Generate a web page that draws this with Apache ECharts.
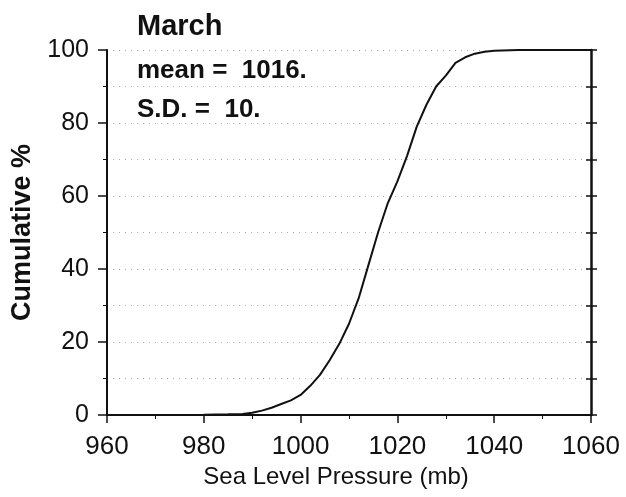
<!DOCTYPE html>
<html>
<head>
<meta charset="utf-8">
<script src="https://cdn.jsdelivr.net/npm/echarts@6/dist/echarts.min.js"></script>
<style>html,body{margin:0;padding:0;background:#fff}#c{width:626px;height:497px}</style>
</head>
<body>
<div id="c"></div>
<script>
var pressure = [960, 970, 980, 985, 988, 990, 992, 994, 996, 998, 1000, 1002, 1004, 1006, 1008, 1010, 1012, 1014, 1016, 1018, 1020, 1022, 1024, 1026, 1028, 1030, 1032, 1034, 1036, 1038, 1040, 1045, 1050, 1060];
var cumulative = [0, 0, 0.1, 0.2, 0.3, 0.6, 1.2, 2, 3, 4, 5.5, 8, 11, 15, 19.5, 25, 32, 41, 50, 58, 64, 71, 79, 85, 90, 93, 96.5, 98, 99, 99.5, 99.8, 100, 100, 100];
var titleText = 'March';
var statLines = ['mean =  1016.', 'S.D. =  10.'];
var xName = 'Sea Level Pressure (mb)';
var yName = 'Cumulative %';

var font = 'Liberation Sans, Arial, Helvetica, sans-serif';
var chart = echarts.init(document.getElementById('c'), null, {renderer: 'canvas'});
var data = pressure.map(function (p, i) { return [p, cumulative[i]]; });

chart.setOption({
  animation: false,
  backgroundColor: '#fff',
  title: {
    text: titleText, left: 137, top: 12, padding: 0,
    textStyle: {fontFamily: font, fontWeight: 'bold', fontSize: 29, color: '#111'}
  },
  grid: {left: 107, right: 35, top: 50, bottom: 82, containLabel: false},
  xAxis: {
    type: 'value', min: 960, max: 1060, interval: 20,
    name: xName, nameLocation: 'middle', nameGap: 50,
    nameTextStyle: {fontFamily: font, fontSize: 24, color: '#111', padding: [0, 26, 0, 0]},
    axisLine: {show: true, onZero: false, lineStyle: {color: '#111', width: 2}},
    axisTick: {show: true, inside: false, length: 8, lineStyle: {color: '#111', width: 1.5}},
    minorTick: {show: true, splitNumber: 2, length: 4, lineStyle: {color: '#111', width: 1}},
    axisLabel: {margin: 19, fontFamily: font, fontSize: 26, color: '#111', formatter: function (v) { return String(v); }},
    splitLine: {show: false}
  },
  yAxis: [{
    type: 'value', min: 0, max: 100, interval: 20, position: 'left',
    name: yName, nameLocation: 'middle', nameGap: 71, nameRotate: 90,
    nameTextStyle: {fontFamily: font, fontWeight: 'bold', fontSize: 27, color: '#111'},
    axisLine: {show: true, onZero: false, lineStyle: {color: '#111', width: 2}},
    axisTick: {show: true, inside: false, length: 9, lineStyle: {color: '#111', width: 1.5}},
    minorTick: {show: true, splitNumber: 2, length: 4, lineStyle: {color: '#111', width: 1}},
    axisLabel: {margin: 18, fontFamily: font, fontSize: 25, color: '#111'},
    splitLine: {show: false}
  }, {
    type: 'value', min: 0, max: 100, interval: 10, position: 'right',
    axisLine: {show: true, onZero: false, lineStyle: {color: '#111', width: 2.5}},
    axisTick: {show: true, inside: true, length: 5, lineStyle: {color: '#111', width: 1.5}},
    axisLabel: {show: false},
    splitLine: {show: true, lineStyle: {color: '#b0b0b0', width: 1, type: [1, 5]}}
  }, {
    type: 'value', min: 0, max: 100, interval: 10, position: 'right',
    axisLine: {show: false},
    axisTick: {show: true, inside: false, length: 6, lineStyle: {color: '#111', width: 1.5}},
    axisLabel: {show: false},
    splitLine: {show: false}
  }],
  graphic: [
    {type: 'text', left: 137, top: 58, style: {text: statLines[0], fontFamily: font, fontWeight: 'bold', fontSize: 26, fill: '#111'}},
    {type: 'text', left: 137, top: 97, style: {text: statLines[1], fontFamily: font, fontWeight: 'bold', fontSize: 26, fill: '#111'}}
  ],
  series: [{
    type: 'line', data: data, yAxisIndex: 0, showSymbol: false, smooth: false,
    lineStyle: {color: '#111', width: 2}, clip: false
  }]
});
</script>
</body>
</html>
